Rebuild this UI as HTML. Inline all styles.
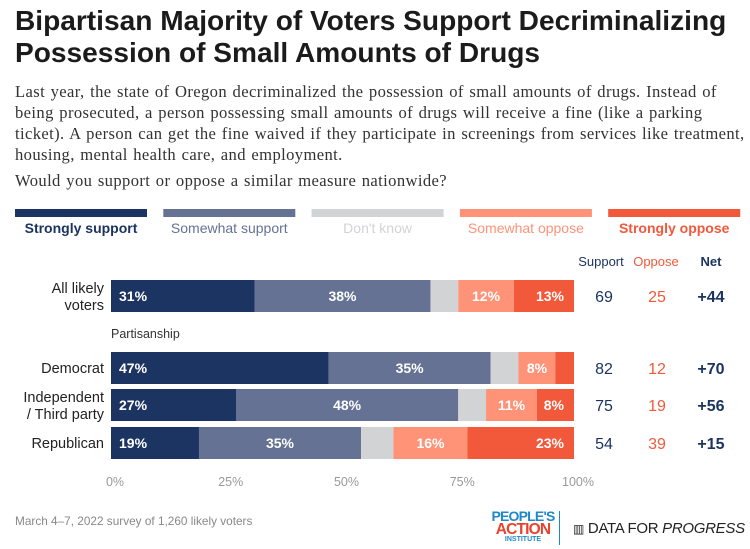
<!DOCTYPE html>
<html><head><meta charset="utf-8"><style>
body{margin:0;width:750px;height:549px;background:#fff;font-family:"Liberation Sans",sans-serif;position:relative;overflow:hidden}
.abs{position:absolute}
h1{position:absolute;left:15px;top:5px;margin:0;font-size:28.1px;line-height:32px;font-weight:bold;color:#1b1b1b;white-space:nowrap}
.desc{position:absolute;left:15px;top:81px;width:740px;font-family:"Liberation Serif",serif;font-size:16.6px;letter-spacing:0.38px;word-spacing:1px;line-height:21px;color:#333;white-space:nowrap}
</style></head><body>
<h1>Bipartisan Majority of Voters Support Decriminalizing<br>Possession of Small Amounts of Drugs</h1>
<div class="desc">Last year, the state of Oregon decriminalized the possession of small amounts of drugs. Instead of<br>being prosecuted, a person possessing small amounts of drugs will receive a fine (like a parking<br>ticket). A person can get the fine waived if they participate in screenings from services like treatment,<br>housing, mental health care, and employment.</div>
<div class="desc" style="top:170px">Would you support or oppose a similar measure nationwide?</div>
<svg class="abs" style="left:0;top:0" width="750" height="549" id="chart"></svg>
<script>
const categories=["All likely voters","Democrat","Independent / Third party","Republican"];
const stronglySupport=[31,47,27,19];
const somewhatSupport=[38,35,48,35];
const dontKnow=[6,6,6,7];
const somewhatOppose=[12,8,11,16];
const stronglyOppose=[13,4,8,23];
const supportTotals=[69,82,75,54];
const opposeTotals=[25,12,19,39];
const netValues=["+44","+70","+56","+15"];
const seriesNames=["Strongly support","Somewhat support","Don't know","Somewhat oppose","Strongly oppose"];
const tickLabels=["0%","25%","50%","75%","100%"];
const tickValues=[0,25,50,75,100];

const colors=["#1c3461","#667294","#d2d3d5","#fe9378","#f2583a"];
const svg=document.getElementById('chart');
const NS="http://www.w3.org/2000/svg";
const x0=111,x1=574;
const xs=v=>x0+(x1-x0)*v/100;
const rowY=[280,352,389,427],rowH=32;
function mk(t,a,txt){const e=document.createElementNS(NS,t);for(const k in a)e.setAttribute(k,a[k]);if(txt!==undefined)e.textContent=txt;svg.appendChild(e);return e;}
const F='"Liberation Sans",sans-serif';
seriesNames.forEach((n,i)=>{
 const lx=15+i*148.3;
 const r=mk('rect',{x:lx,y:209,width:132,height:8,fill:colors[i]});
 
 
 const t=mk('text',{x:lx+66,y:233,'text-anchor':'middle','font-family':F,'font-size':14,fill:colors[i],'font-weight':(i==0||i==4)?'bold':'normal'},n);
 
 
});
[["Support",601,"#1c3461","normal"],["Oppose",656,"#f2583a","normal"],["Net",711,"#1c3461","bold"]].forEach(h=>{
 const t=mk('text',{x:h[1],y:266,'text-anchor':'middle','font-family':F,'font-size':13,fill:h[2],'font-weight':h[3]},h[0]);
 
 
});
const pt=mk('text',{x:111,y:338,'font-family':F,'font-size':12.5,fill:'#333'},"Partisanship");


const series=[stronglySupport,somewhatSupport,dontKnow,somewhatOppose,stronglyOppose];
categories.forEach((c,ri)=>{
 const y=rowY[ri];
 let acc=0;
 series.forEach((s,si)=>{
  const v=s[ri];
  const r=mk('rect',{x:xs(acc),y:y,width:xs(acc+v)-xs(acc),height:rowH,fill:colors[si]});
  
  
  if(si!=2 && v>=8){
   let tx,anchor;
   if(si==0){tx=xs(acc)+8;anchor='start';}
   else if(si==4){tx=xs(acc+v)-10;anchor='end';}
   else {tx=(xs(acc)+xs(acc+v))/2;anchor='middle';}
   const t=mk('text',{x:tx,y:y+rowH/2+5,'text-anchor':anchor,'font-family':F,'font-size':14,'font-weight':'bold',fill:'#fff'},v+'%');
   
   
  }
  acc+=v;
 });
 const parts=c=="All likely voters"?["All likely","voters"]:c=="Independent / Third party"?["Independent","/ Third party"]:[c];
 parts.forEach((p,pi)=>{
  const yy=y+rowH/2+5+(parts.length==2?(pi==0?-8:9):0);
  const t=mk('text',{x:104,y:yy,'text-anchor':'end','font-family':F,'font-size':14.5,fill:'#222'},p);
  
  
 });
 const cy=y+rowH/2+6;
 let t=mk('text',{x:604,y:cy,'text-anchor':'middle','font-family':F,'font-size':16,fill:'#1c3461'},supportTotals[ri]);
 
 
 t=mk('text',{x:657,y:cy,'text-anchor':'middle','font-family':F,'font-size':16,fill:'#f2583a'},opposeTotals[ri]);
 
 
 t=mk('text',{x:711,y:cy,'text-anchor':'middle','font-family':F,'font-size':16,'font-weight':'bold',fill:'#1c3461'},netValues[ri]);
 
 
});
tickValues.forEach((v,i)=>{
 const t=mk('text',{x:xs(v)+4,y:486,'text-anchor':'middle','font-family':F,'font-size':12.5,fill:'#999'},tickLabels[i]);
 
 
});
</script>
<div class="abs" style="left:15px;top:514px;font-size:11.8px;color:#888;white-space:nowrap">March 4–7, 2022 survey of 1,260 likely voters</div>
<div class="abs" style="left:488px;top:510px;width:70px;text-align:center;line-height:13px;font-weight:bold;font-size:14px;letter-spacing:-0.8px;white-space:nowrap"><span style="color:#1e88c8">PEOPLE'S</span><br><span style="color:#e8412c;font-size:15.5px">ACTION</span><br><span style="color:#1e88c8;font-size:7px;line-height:8px;display:block;letter-spacing:0">INSTITUTE</span></div>
<div class="abs" style="left:559px;top:511px;width:1px;height:34px;background:#1e88c8"></div>
<div class="abs" style="left:573px;top:519px;font-size:15px;line-height:20px;color:#222;white-space:nowrap;letter-spacing:-0.3px"><span style="font-size:12px">▥</span> DATA FOR <i>PROGRESS</i></div>
</body></html>
